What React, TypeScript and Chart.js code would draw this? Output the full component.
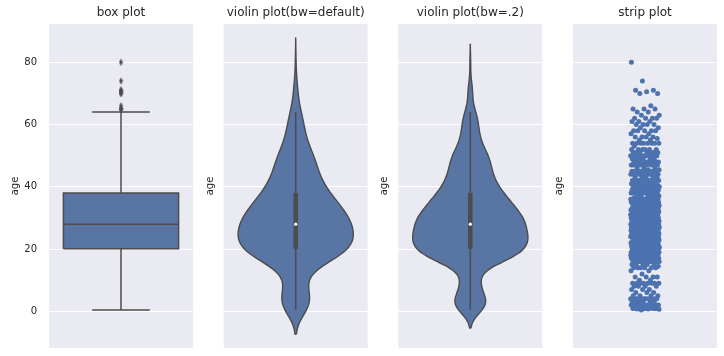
import React, { useEffect, useRef } from 'react';
import { Chart, registerables } from 'chart.js';

Chart.register(...registerables);

// ---------- data ----------
const titles = ['box plot', 'violin plot(bw=default)', 'violin plot(bw=.2)', 'strip plot'];
const yLabel = 'age';
const yTicks = [0, 20, 40, 60, 80];

// passenger ages (value -> how many passengers)
const ageValues = [
  0.42, 0.67, 0.75, 0.83, 0.92, 1, 2, 3, 4, 5, 6, 7, 8, 9, 10,
  11, 12, 13, 14, 14.5, 15, 16, 17, 18, 19, 20, 20.5, 21, 22, 23,
  23.5, 24, 24.5, 25, 26, 27, 28, 28.5, 29, 30, 30.5, 31, 32, 32.5, 33,
  34, 34.5, 35, 36, 36.5, 37, 38, 39, 40, 40.5, 41, 42, 43, 44, 45,
  45.5, 46, 47, 48, 49, 50, 51, 52, 53, 54, 55, 55.5, 56, 57, 58,
  59, 60, 61, 62, 63, 64, 65, 66, 70, 70.5, 71, 74, 80,
];
const ageCounts = [
  1, 1, 2, 2, 1, 7, 10, 6, 10, 4, 3, 3, 4, 8, 2,
  4, 1, 2, 6, 1, 5, 17, 13, 26, 25, 15, 1, 24, 27, 15,
  1, 30, 1, 23, 18, 18, 25, 2, 20, 25, 2, 17, 18, 2, 15,
  15, 1, 18, 22, 1, 6, 11, 14, 13, 2, 6, 13, 5, 9, 12,
  2, 3, 9, 9, 6, 10, 7, 6, 1, 8, 2, 1, 4, 2, 5,
  2, 4, 3, 4, 2, 2, 3, 1, 2, 1, 2, 1, 1,
];
// lower whisker, Q1, median, Q3, upper whisker
const boxStats = [0.42, 20.125, 28, 38, 64];
// KDE bandwidth factors for the two violins ('scott' = default)
const violinBw: (string | number)[] = ['scott', 0.2];

// ---------- style / layout ----------
const FONT = 'DejaVu Sans';
const TEXT = '#262626';
const FILL = '#5875a4';
const EDGE = '#4c4c4c';
const STRIP = '#4c72b0';
const AX_BG = '#eaeaf2';
const Y_MIN = -11.8;
const Y_MAX = 92.3;
const W = 724;
const H = 356;
const PLOT_W = 144;
const PLOT_BOTTOM = 348;
const plotLefts = [49, 223.7, 398.3, 573];
const edges = [0, 200, 376, 551, 724];
const labelCenters = [15.2, 210.2, 384.8, 559.5];

const ages: number[] = [];
ageValues.forEach((v, i) => {
  for (let k = 0; k < ageCounts[i]; k++) ages.push(v);
});

function violinShape(data: number[], bw: string | number) {
  const n = data.length;
  const mean = data.reduce((a, b) => a + b, 0) / n;
  const sd = Math.sqrt(data.reduce((a, b) => a + (b - mean) * (b - mean), 0) / (n - 1));
  const factor = bw === 'scott' ? Math.pow(n, -0.2) : (bw as number);
  const h = factor * sd;
  const lo = Math.min(...data) - 2 * h;
  const hi = Math.max(...data) + 2 * h;
  const ys: number[] = [];
  const ds: number[] = [];
  const G = 100;
  for (let i = 0; i < G; i++) {
    const y = lo + ((hi - lo) * i) / (G - 1);
    let s = 0;
    for (const x of data) {
      const z = (y - x) / h;
      s += Math.exp(-0.5 * z * z);
    }
    ys.push(y);
    ds.push(s);
  }
  const mx = Math.max(...ds);
  const pts: { x: number; y: number }[] = [];
  for (let i = 0; i < G; i++) pts.push({ x: (ds[i] / mx) * 0.4, y: ys[i] });
  for (let i = G - 1; i >= 0; i--) pts.push({ x: -(ds[i] / mx) * 0.4, y: ys[i] });
  pts.push({ x: pts[0].x, y: pts[0].y });
  return pts;
}

function lineDs(points: { x: number; y: number }[], width: number, color = EDGE) {
  return {
    type: 'scatter' as const,
    data: points,
    showLine: true,
    borderColor: color,
    borderWidth: width,
    pointRadius: 0,
    fill: false,
    tension: 0,
  };
}

function makeDiamond() {
  const c = document.createElement('canvas');
  c.width = 5;
  c.height = 8;
  const g = c.getContext('2d')!;
  g.fillStyle = EDGE;
  g.beginPath();
  g.moveTo(2.5, 0.3);
  g.lineTo(4.4, 4);
  g.lineTo(2.5, 7.7);
  g.lineTo(0.6, 4);
  g.closePath();
  g.fill();
  return c;
}

function datasetsFor(i: number): any[] {
  const [lw, q1, med, q3, hw] = boxStats;
  if (i === 0) {
    const outliers = ages.filter((a) => a > hw || a < lw).map((a) => ({ x: 0, y: a }));
    return [
      {
        type: 'scatter',
        data: outliers,
        pointStyle: makeDiamond(),
        pointRadius: 3,
        showLine: false,
      },
      lineDs([{ x: -0.4, y: med }, { x: 0.4, y: med }], 1.5),
      {
        ...lineDs(
          [
            { x: -0.4, y: q1 },
            { x: 0.4, y: q1 },
            { x: 0.4, y: q3 },
            { x: -0.4, y: q3 },
            { x: -0.4, y: q1 },
          ],
          1.5
        ),
        fill: 'shape',
        backgroundColor: FILL,
      },
      lineDs([{ x: 0, y: q1 }, { x: 0, y: lw }], 1.5),
      lineDs([{ x: 0, y: q3 }, { x: 0, y: hw }], 1.5),
      lineDs([{ x: -0.2, y: lw }, { x: 0.2, y: lw }], 1.5),
      lineDs([{ x: -0.2, y: hw }, { x: 0.2, y: hw }], 1.5),
    ];
  }
  if (i === 1 || i === 2) {
    return [
      {
        type: 'scatter',
        data: [{ x: 0, y: med }],
        pointRadius: 1.6,
        backgroundColor: '#ffffff',
        borderColor: '#ffffff',
        borderWidth: 0,
      },
      lineDs([{ x: 0, y: q1 }, { x: 0, y: q3 }], 4.5),
      lineDs([{ x: 0, y: lw }, { x: 0, y: hw }], 1.5),
      {
        ...lineDs(violinShape(ages, violinBw[i - 1]), 1.4),
        fill: 'shape',
        backgroundColor: FILL,
        borderJoinStyle: 'round',
        tension: 0.2,
      },
    ];
  }
  const pts = ages.map((a, j) => ({ x: (((j * 0.6180339887 + 0.37) % 1) - 0.5) * 0.2, y: a }));
  return [
    {
      type: 'scatter',
      data: pts,
      pointRadius: 2.5,
      backgroundColor: STRIP,
      borderWidth: 0,
    },
  ];
}

const bgPlugin = {
  id: 'axbg',
  beforeDraw(chart: any) {
    const { ctx, chartArea } = chart;
    ctx.save();
    ctx.fillStyle = AX_BG;
    ctx.fillRect(chartArea.left, chartArea.top, chartArea.width, chartArea.height);
    ctx.restore();
  },
};

function Panel({ i }: { i: number }) {
  const ref = useRef<HTMLCanvasElement | null>(null);
  const cw = edges[i + 1] - edges[i];
  useEffect(() => {
    if (!ref.current) return;
    const axisW = plotLefts[i] - edges[i];
    const padR = edges[i + 1] - (plotLefts[i] + PLOT_W);
    const chart = new Chart(ref.current, {
      type: 'scatter',
      data: { datasets: datasetsFor(i) },
      options: {
        responsive: false,
        animation: false,
        devicePixelRatio: 1,
        layout: { padding: { left: 0, right: padR, top: 0, bottom: H - PLOT_BOTTOM } },
        plugins: {
          legend: { display: false },
          tooltip: { enabled: false },
          title: {
            display: true,
            text: titles[i],
            fullSize: false,
            color: TEXT,
            font: { family: FONT, size: 12, weight: 'normal', lineHeight: 1 },
            padding: { top: 7, bottom: 5 },
          },
        },
        scales: {
          x: { type: 'linear', min: -0.5, max: 0.5, display: false },
          y: {
            type: 'linear',
            min: Y_MIN,
            max: Y_MAX,
            afterBuildTicks: (s: any) => {
              s.ticks = yTicks.map((v) => ({ value: v }));
            },
            afterFit: (s: any) => {
              s.width = axisW;
              s.paddingTop = 0;
              s.paddingBottom = 0;
            },
            grid: { color: '#ffffff', lineWidth: 1, drawTicks: false },
            border: { display: false },
            ticks: {
              display: i === 0,
              padding: 12,
              color: TEXT,
              font: { family: FONT, size: 10 },
            },
            title: {
              display: true,
              text: yLabel,
              color: TEXT,
              font: { family: FONT, size: 10, lineHeight: 1 },
              padding: { top: labelCenters[i] - edges[i] - 5, bottom: 0 },
            },
          },
        },
      } as any,
      plugins: [bgPlugin],
    });
    return () => chart.destroy();
  }, [i]);
  return (
    <canvas
      ref={ref}
      width={cw}
      height={H}
      style={{ position: 'absolute', left: edges[i], top: 0, width: cw, height: H }}
    />
  );
}

export default function App() {
  return (
    <div style={{ position: 'absolute', left: 0, top: 0, width: W, height: H, background: '#ffffff' }}>
      {[0, 1, 2, 3].map((i) => (
        <Panel key={i} i={i} />
      ))}
    </div>
  );
}
